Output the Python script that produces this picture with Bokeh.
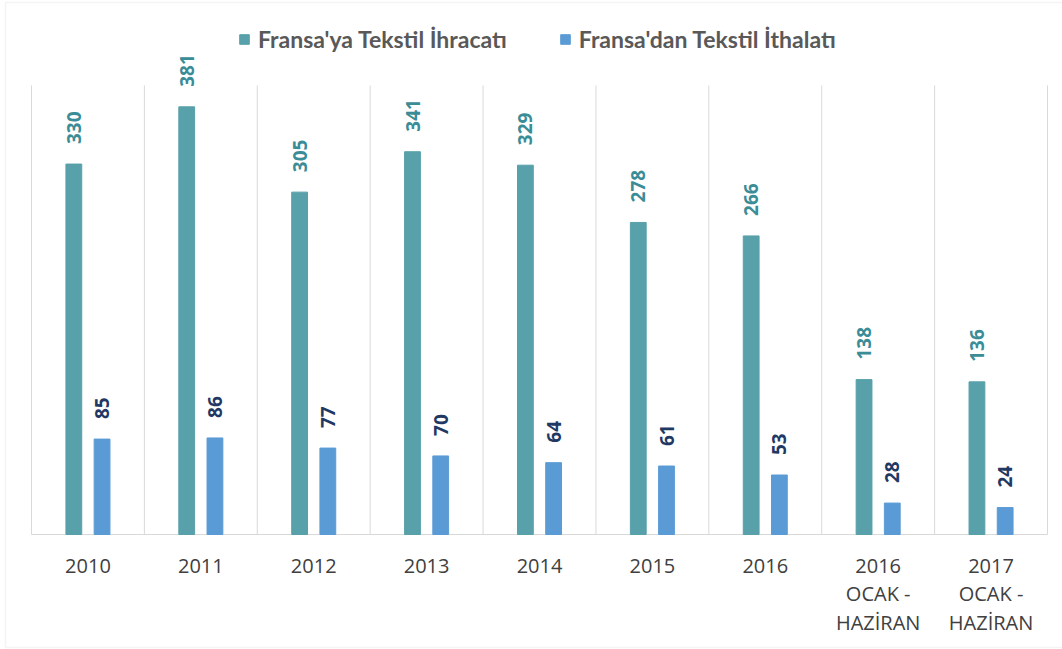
from math import pi
from bokeh.plotting import figure
from bokeh.models import (ColumnDataSource, Range1d, Legend, LegendItem, BoxAnnotation)
from bokeh.core.properties import value
from bokeh.embed import file_html
from bokeh.resources import INLINE

categories = ["2010", "2011", "2012", "2013", "2014", "2015", "2016",
              "2016 OCAK - HAZİRAN", "2017 OCAK - HAZİRAN"]
tick_line1 = ["2010", "2011", "2012", "2013", "2014", "2015", "2016", "2016", "2017"]
tick_line2 = ["", "", "", "", "", "", "", "OCAK -", "OCAK -"]
tick_line3 = ["", "", "", "", "", "", "", "HAZİRAN", "HAZİRAN"]
export_vals = [330, 381, 305, 341, 329, 278, 266, 138, 136]
import_vals = [85, 86, 77, 70, 64, 61, 53, 28, 24]
series_names = ["Fransa'ya Tekstil İhracatı", "Fransa'dan Tekstil İthalatı"]

TEAL = "#58a0aa"
BLUE = "#5b9bd5"
GRID = "#d9d9d9"

W, H = 1062, 649
# pixel geometry of the plotting area inside the canvas
PLOT_LEFT, PLOT_RIGHT, PLOT_TOP, BASELINE = 31, 1047, 85, 534
YMAX = 400
n = len(categories)
kx = (PLOT_RIGHT - PLOT_LEFT) / n           # px per category
ky = (BASELINE - PLOT_TOP) / YMAX            # px per unit
x_lo, x_hi = -PLOT_LEFT / kx, n + (W - PLOT_RIGHT) / kx
y_lo, y_hi = -(H - BASELINE) / ky, YMAX + PLOT_TOP / ky

pos = [i + 0.5 for i in range(n)]            # category centres on the x scale
src = ColumnDataSource(dict(
    x=pos, xe=[c - 0.125 for c in pos], xi=[c + 0.125 for c in pos],
    exp=export_vals, imp=import_vals,
    exp_lbl=[str(v) for v in export_vals], imp_lbl=[str(v) for v in import_vals],
    t1=tick_line1, t2=tick_line2, t3=tick_line3,
))
edges = ColumnDataSource(dict(x=list(range(n + 1))))

p = figure(width=W, height=H,
           x_range=Range1d(x_lo, x_hi), y_range=Range1d(y_lo, y_hi),
           output_backend="svg", toolbar_location=None,
           min_border_left=0, min_border_right=0,
           min_border_top=0, min_border_bottom=0)
p.outline_line_color = None
p.xgrid.visible = False
p.ygrid.visible = False
p.xaxis.visible = False
p.yaxis.visible = False

# outer chart border
p.add_layout(BoxAnnotation(left=5, right=W + 20, top=2, bottom=H - 2,
                           left_units="canvas", right_units="canvas",
                           top_units="canvas", bottom_units="canvas",
                           fill_alpha=0, line_color=GRID, line_width=1.5))

# category separators (Excel-style vertical gridlines) and baseline
p.segment(x0="x", y0=0, x1="x", y1=YMAX, source=edges, line_color=GRID, line_width=1)
p.segment(x0=0, y0=0, x1=n, y1=0, line_color=GRID, line_width=1.2)

r1 = p.vbar(x="xe", top="exp", width=0.14, source=src,
            fill_color=TEAL, line_color=TEAL)
r2 = p.vbar(x="xi", top="imp", width=0.14, source=src,
            fill_color=BLUE, line_color=BLUE)

# value labels (rotated)
p.text(x="xe", y="exp", text="exp_lbl", source=src,
       angle=pi / 2, y_offset=-20, text_align="left", text_baseline="middle",
       text_font=value("Open Sans"), text_font_style="bold",
       text_font_size="19px", text_color="#3a8c97")
p.text(x="xi", y="imp", text="imp_lbl", source=src,
       angle=pi / 2, y_offset=-20, text_align="left", text_baseline="middle",
       text_font=value("Open Sans"), text_font_style="bold",
       text_font_size="19px", text_color="#1f3864")

# category labels
for col, off in (("t1", 31), ("t2", 59), ("t3", 88)):
    p.text(x="x", y=0, text=col, source=src, y_offset=off,
           text_align="center", text_baseline="middle",
           text_font=value("Open Sans"), text_font_size="20px", text_color="#404040")

legend = Legend(items=[LegendItem(label=series_names[0], renderers=[r1]),
                       LegendItem(label=series_names[1], renderers=[r2])],
                orientation="horizontal", location=(238, 596),
                label_text_font="Lato", label_text_font_style="bold",
                label_text_font_size="23px", label_text_color="#595959",
                glyph_width=12, glyph_height=12, label_standoff=8, spacing=52,
                padding=5, margin=0,
                border_line_color=None, background_fill_alpha=0)
p.add_layout(legend, "center")

open("out.html", "w").write(file_html(p, INLINE))
